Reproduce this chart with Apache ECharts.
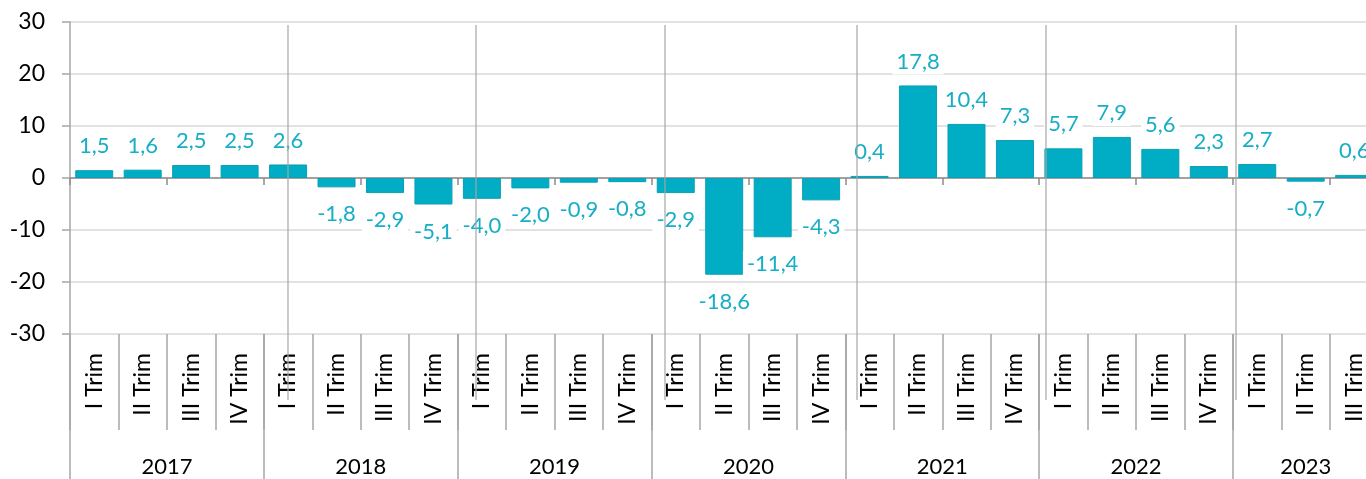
<!DOCTYPE html>
<html>
<head>
<meta charset="utf-8">
<script src="https://cdn.jsdelivr.net/npm/echarts@6/dist/echarts.min.js"></script>
<style>
  html, body { margin: 0; padding: 0; background: #fff; }
  #canvasContainer { width: 1366px; height: 479px; }
</style>
</head>
<body>
<div id="canvasContainer"></div>
<script>
var quarterLabels = [
    'I Trim', 'II Trim', 'III Trim', 'IV Trim',
    'I Trim', 'II Trim', 'III Trim', 'IV Trim',
    'I Trim', 'II Trim', 'III Trim', 'IV Trim',
    'I Trim', 'II Trim', 'III Trim', 'IV Trim',
    'I Trim', 'II Trim', 'III Trim', 'IV Trim',
    'I Trim', 'II Trim', 'III Trim', 'IV Trim',
    'I Trim', 'II Trim', 'III Trim'
];
var yearLabels = ['2017', '2018', '2019', '2020', '2021', '2022', '2023'];
var quartersPerYear = [4, 4, 4, 4, 4, 4, 3];
var values = [
    1.5, 1.6, 2.5, 2.5,
    2.6, -1.8, -2.9, -5.1,
    -4.0, -2.0, -0.9, -0.8,
    -2.9, -18.6, -11.4, -4.3,
    0.4, 17.8, 10.4, 7.3,
    5.7, 7.9, 5.6, 2.3,
    2.7, -0.7, 0.6
];
var yTicks = [-30, -20, -10, 0, 10, 20, 30];

var chart = echarts.init(document.getElementById('canvasContainer'));

// year boundaries and year label positions (in category units)
var yearBounds = [0];
var yearCenters = [];
var yearAt = {};
quartersPerYear.forEach(function (n, i) {
    var start = yearBounds[yearBounds.length - 1];
    yearBounds.push(start + n);
    yearCenters.push(start + n / 2);
    yearAt[start + n / 2] = yearLabels[i];
});

var barData = values.map(function (v) {
    return {
        value: v,
        label: v < 0 ? { position: 'bottom', distance: 14 } : { position: 'top', distance: 11 }
    };
});

var font = 'Lato, "Noto Sans", sans-serif';
var grey = '#a6a6a6';

// stray vertical lines from the original picture
var strayX = [288, 476, 665, 857, 1046, 1236];

var option = {
    animation: false,
    textStyle: { fontFamily: font },
    grid: { left: 70, top: 22, width: 1308.4, height: 312, outerBoundsMode: 'none', containLabel: false },
    xAxis: [
        {
            type: 'category',
            data: quarterLabels,
            position: 'bottom',
            axisLine: { show: false, onZero: false },
            axisTick: { show: true, length: 96, lineStyle: { color: grey, width: 1.5 } },
            axisLabel: {
                rotate: 90, margin: 19, fontSize: 23, color: '#000',
                fontFamily: font, interval: 0
            },
            splitLine: { show: false }
        },
        {
            type: 'category',
            data: quarterLabels,
            position: 'bottom',
            axisLine: { show: true, onZero: true, lineStyle: { color: '#8c8c8c', width: 1.5 } },
            axisTick: { show: true, length: 7, lineStyle: { color: '#8c8c8c', width: 1.5 } },
            axisLabel: { show: false },
            splitLine: { show: false }
        },
        {
            type: 'value',
            min: 0,
            max: quarterLabels.length,
            position: 'bottom',
            axisLine: { show: false, onZero: false },
            axisTick: { show: true, length: 145, customValues: yearBounds.slice(0, -1),
                lineStyle: { color: grey, width: 1.5 } },
            axisLabel: {
                customValues: yearCenters, margin: 122, fontSize: 22, color: '#000',
                fontFamily: font,
                formatter: function (v) { return yearAt[v] || ''; }
            },
            splitLine: { show: false }
        }
    ],
    yAxis: {
        type: 'value',
        min: yTicks[0],
        max: yTicks[yTicks.length - 1],
        interval: 10,
        axisLine: { show: true, lineStyle: { color: grey, width: 1.5 } },
        axisTick: { show: true, length: 8, lineStyle: { color: grey, width: 1.5 } },
        axisLabel: { margin: 25, fontSize: 23, color: '#000', fontFamily: font },
        splitLine: { lineStyle: { color: '#d9d9d9', width: 1.5 } }
    },
    series: [
        {
            type: 'bar',
            xAxisIndex: 0,
            data: barData,
            barWidth: 38,
            itemStyle: { color: '#00adc4', borderColor: '#0aa0b6', borderWidth: 1 },
            label: {
                show: true,
                fontSize: 22,
                color: '#17aec6',
                fontFamily: font,
                backgroundColor: '#fff',
                padding: [2, 4],
                formatter: function (p) { return p.value.toFixed(1).replace('.', ','); }
            }
        }
    ],
    graphic: strayX.map(function (x) {
        return {
            type: 'line',
            z: 100,
            shape: { x1: x, y1: 25, x2: x, y2: 400 },
            style: { stroke: grey, lineWidth: 1.2 }
        };
    })
};
chart.setOption(option);
</script>
</body>
</html>
